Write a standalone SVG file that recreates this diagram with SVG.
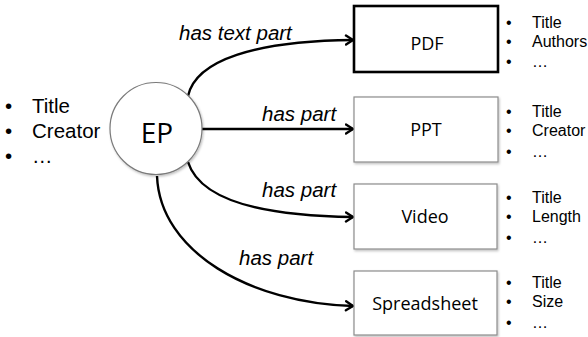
<svg xmlns="http://www.w3.org/2000/svg" width="588" height="337" viewBox="0 0 588 337">
  <defs>
    <marker id="arr" markerWidth="10" markerHeight="12" refX="8.5" refY="6" orient="auto" markerUnits="userSpaceOnUse">
      <path d="M1.5,1.5 L8.5,6 L1.5,10.5" fill="none" stroke="#000" stroke-width="2.4" stroke-linecap="round" stroke-linejoin="round"/>
    </marker>
    <filter id="sh" x="-20%" y="-20%" width="140%" height="140%">
      <feDropShadow dx="1" dy="1.5" stdDeviation="1" flood-color="#000" flood-opacity="0.25"/>
    </filter>
  </defs>
  <style>
    .edge { fill: none; stroke: #000; stroke-width: 2.4; marker-end: url(#arr); }
    .box { fill: #fff; stroke: #8c8c8c; stroke-width: 1.2; }
    .bold { stroke: #000; stroke-width: 2.6; }
    .nlabel { font-family: "Open Sans", "Noto Sans", sans-serif; font-size: 18px; fill: #000; text-anchor: middle; }
    .elabel { font-family: "Liberation Sans", Arial, sans-serif; font-style: italic; font-size: 20.5px; fill: #000; }
    .attr { font-family: "Liberation Sans", Arial, sans-serif; font-size: 16px; fill: #000; }
    .attrL { font-family: "Liberation Sans", Arial, sans-serif; font-size: 20.5px; fill: #000; }
  </style>
  <rect width="588" height="337" fill="#fff"/>

  <g id="connectors">
    <path class="edge" d="M188,96 C196,60 255,41 353,40"/>
    <path class="edge" d="M202,129 L353,129"/>
    <path class="edge" d="M188,162 C200,200 262,216 353,217"/>
    <path class="edge" d="M157,176 C160,252 250,303 353,306"/>
    <text class="elabel" x="179" y="40">has text part</text>
    <text class="elabel" x="262" y="121">has part</text>
    <text class="elabel" x="262" y="197">has part</text>
    <text class="elabel" x="239" y="265">has part</text>
  </g>

  <g id="EP">
    <circle cx="156" cy="128.5" r="46" fill="#fff" stroke="#7a7a7a" stroke-width="1.2" filter="url(#sh)"/>
    <text x="157" y="143" font-family="Open Sans, Noto Sans, sans-serif" font-size="28" text-anchor="middle" fill="#000">EP</text>
  </g>

  <g id="EP-attrs">
    <text class="attrL" x="5" y="113">•</text>
    <text class="attrL" x="32" y="113">Title</text>
    <text class="attrL" x="5" y="138">•</text>
    <text class="attrL" x="32" y="138">Creator</text>
    <text class="attrL" x="5" y="163">•</text>
    <text class="attrL" x="32" y="163">…</text>
  </g>

  <g id="PDF">
    <rect class="box bold" x="354" y="6" width="144" height="66"/>
    <text class="nlabel" x="427" y="50">PDF</text>
  </g>
  <g id="PDF-attrs">
    <text class="attr" x="506" y="28">•</text>
    <text class="attr" x="532" y="28">Title</text>
    <text class="attr" x="506" y="47">•</text>
    <text class="attr" x="532" y="47">Authors</text>
    <text class="attr" x="506" y="67">•</text>
    <text class="attr" x="532" y="67">…</text>
  </g>

  <g id="PPT">
    <rect class="box" x="354" y="97" width="144" height="65" filter="url(#sh)"/>
    <text class="nlabel" x="426" y="136">PPT</text>
  </g>
  <g id="PPT-attrs">
    <text class="attr" x="506" y="117">•</text>
    <text class="attr" x="532" y="117">Title</text>
    <text class="attr" x="506" y="136">•</text>
    <text class="attr" x="532" y="136">Creator</text>
    <text class="attr" x="506" y="157">•</text>
    <text class="attr" x="532" y="157">…</text>
  </g>

  <g id="Video">
    <rect class="box" x="354" y="184" width="143" height="65" filter="url(#sh)"/>
    <text class="nlabel" x="425" y="223">Video</text>
  </g>
  <g id="Video-attrs">
    <text class="attr" x="506" y="203">•</text>
    <text class="attr" x="532" y="203">Title</text>
    <text class="attr" x="506" y="222">•</text>
    <text class="attr" x="532" y="222">Length</text>
    <text class="attr" x="506" y="243">•</text>
    <text class="attr" x="532" y="243">…</text>
  </g>

  <g id="Spreadsheet">
    <rect class="box" x="354" y="271" width="143" height="64" filter="url(#sh)"/>
    <text class="nlabel" x="425" y="310">Spreadsheet</text>
  </g>
  <g id="Spreadsheet-attrs">
    <text class="attr" x="506" y="288">•</text>
    <text class="attr" x="532" y="288">Title</text>
    <text class="attr" x="506" y="307">•</text>
    <text class="attr" x="532" y="307">Size</text>
    <text class="attr" x="506" y="328">•</text>
    <text class="attr" x="532" y="328">…</text>
  </g>
</svg>
